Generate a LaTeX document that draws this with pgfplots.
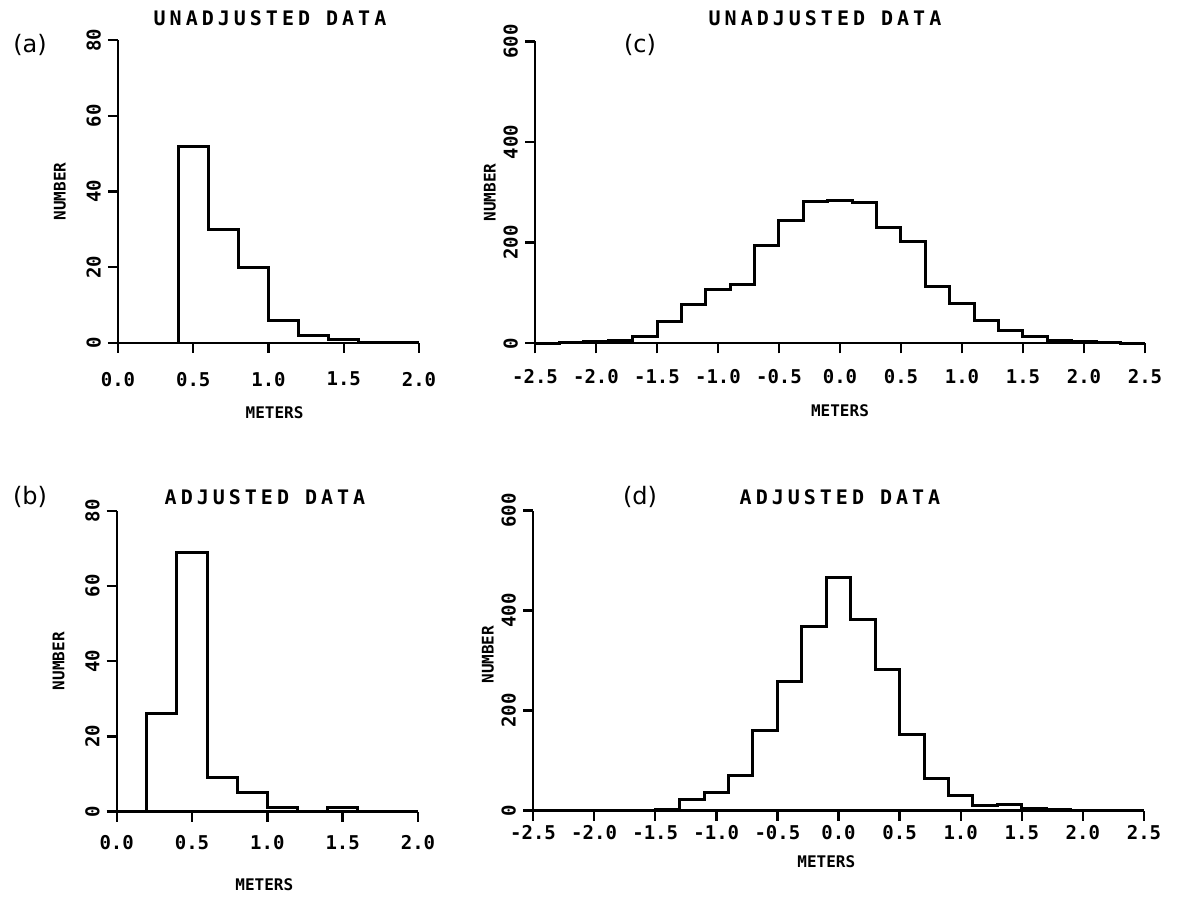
\documentclass[border=0pt]{standalone}
\usepackage{fontspec}
\setmainfont{DejaVu Sans Mono}
\newfontfamily\titlefont[LetterSpace=20]{DejaVu Sans Mono}
\newfontfamily\panelfont{DejaVu Sans}
\usepackage{pgfplots}
\pgfplotsset{compat=1.18}
\pgfplotsset{hist/.style={
  scale only axis, axis x line=bottom, axis y line=left,
  axis line style={-, line width=1.2pt},
  tick align=outside, major tick length=5pt,
  every tick/.style={line width=1.2pt, black},
  enlargelimits=false, clip=false, anchor=south west,
  tick label style={font=\bfseries\fontsize{9.5}{11}\selectfont},
  yticklabel style={rotate=90, anchor=south},
  minor tick num=0}}
\newcommand{\lblfont}{\bfseries\fontsize{8}{10}\selectfont}
\begin{document}
\begin{tikzpicture}
\useasboundingbox (0,0) rectangle (590pt,449pt);
% (a)
\begin{axis}[hist, at={(59pt,277.5pt)}, width=150.5pt, height=151.5pt,
  xmin=0, xmax=2, ymin=0, ymax=80,
  xtick={0,0.5,1,1.5,2}, xticklabels={0.0,0.5,1.0,1.5,2.0},
  ytick={0,20,40,60,80}, yticklabels={0,20,40,60,80},
  xticklabel style={yshift=-6pt}]
\addplot[const plot, line width=1.5pt, black, no marks] coordinates {
 (0.4,0) (0.4,52) (0.6,30) (0.8,20) (1.0,6) (1.2,2) (1.4,1) (1.6,0) (2.0,0)};
\node[rotate=90, font=\lblfont] at (rel axis cs:-0.193,0.5) {NUMBER};
\node[font=\lblfont] at (rel axis cs:0.52,-0.23) {METERS};
\end{axis}
% (b)
\begin{axis}[hist, at={(58.35pt,43.15pt)}, width=150.65pt, height=150.5pt,
  xmin=0, xmax=2, ymin=0, ymax=80,
  xtick={0,0.5,1,1.5,2}, xticklabels={0.0,0.5,1.0,1.5,2.0},
  ytick={0,20,40,60,80}, yticklabels={0,20,40,60,80},
  xticklabel style={yshift=-3.5pt}]
\addplot[const plot, line width=1.5pt, black, no marks] coordinates {
 (0.2,0) (0.2,26) (0.4,69) (0.6,9) (0.8,5) (1.0,1) (1.2,0) (1.4,1) (1.6,0) (2.0,0)};
\node[rotate=90, font=\lblfont] at (rel axis cs:-0.193,0.5) {NUMBER};
\node[font=\lblfont] at (rel axis cs:0.49,-0.244) {METERS};
\end{axis}
% (c)
\begin{axis}[hist, at={(267.5pt,277.35pt)}, width=305pt, height=150.9pt,
  xmin=-2.5, xmax=2.5, ymin=0, ymax=600,
  xtick={-2.5,-2,-1.5,-1,-0.5,0,0.5,1,1.5,2,2.5},
  xticklabels={-2.5,-2.0,-1.5,-1.0,-0.5,0.0,0.5,1.0,1.5,2.0,2.5},
  ytick={0,200,400,600}, yticklabels={0,200,400,600},
  xticklabel style={yshift=-4.5pt}]
\addplot[const plot, line width=1.5pt, black, no marks] coordinates {
 (-2.5,0) (-2.3,1) (-2.1,3) (-1.9,5) (-1.7,13) (-1.5,43) (-1.3,78) (-1.1,106)
 (-0.9,117) (-0.7,195) (-0.5,245) (-0.3,282) (-0.1,283) (0.1,280) (0.3,230)
 (0.5,202) (0.7,113) (0.9,80) (1.1,45) (1.3,25) (1.5,13) (1.7,5) (1.9,3)
 (2.1,1) (2.3,0) (2.5,0)};
\node[rotate=90, font=\lblfont] at (rel axis cs:-0.074,0.5) {NUMBER};
\node[font=\lblfont] at (rel axis cs:0.5,-0.222) {METERS};
\end{axis}
% (d)
\begin{axis}[hist, at={(266.5pt,43.65pt)}, width=305.5pt, height=150pt,
  xmin=-2.5, xmax=2.5, ymin=0, ymax=600,
  xtick={-2.5,-2,-1.5,-1,-0.5,0,0.5,1,1.5,2,2.5},
  xticklabels={-2.5,-2.0,-1.5,-1.0,-0.5,0.0,0.5,1.0,1.5,2.0,2.5},
  ytick={0,200,400,600}, yticklabels={0,200,400,600},
  xticklabel style={yshift=1pt}]
\addplot[const plot, line width=1.5pt, black, no marks] coordinates {
 (-2.5,0) (-1.7,1) (-1.5,2) (-1.3,23) (-1.1,37) (-0.9,70) (-0.7,160)
 (-0.5,258) (-0.3,368) (-0.1,467) (0.1,383) (0.3,283) (0.5,153) (0.7,65)
 (0.9,30) (1.1,10) (1.3,12) (1.5,5) (1.7,2) (1.9,1) (2.1,0) (2.5,0)};
\node[rotate=90, font=\lblfont] at (rel axis cs:-0.074,0.52) {NUMBER};
\node[font=\lblfont] at (rel axis cs:0.48,-0.171) {METERS};
\end{axis}
% titles and panel labels
\node[font=\titlefont\bfseries\fontsize{10}{12}\selectfont] at (135pt,440pt) {UNADJUSTED DATA};
\node[font=\titlefont\bfseries\fontsize{10}{12}\selectfont] at (412.5pt,440pt) {UNADJUSTED DATA};
\node[font=\titlefont\bfseries\fontsize{10}{12}\selectfont] at (132.5pt,200.5pt) {ADJUSTED DATA};
\node[font=\titlefont\bfseries\fontsize{10}{12}\selectfont] at (420pt,200.5pt) {ADJUSTED DATA};
\node[font=\panelfont\fontsize{12}{14}\selectfont] at (15pt,426.5pt) {(a)};
\node[font=\panelfont\fontsize{12}{14}\selectfont] at (15pt,200.5pt) {(b)};
\node[font=\panelfont\fontsize{12}{14}\selectfont] at (320pt,426.5pt) {(c)};
\node[font=\panelfont\fontsize{12}{14}\selectfont] at (320pt,200.5pt) {(d)};
\end{tikzpicture}
\end{document}
